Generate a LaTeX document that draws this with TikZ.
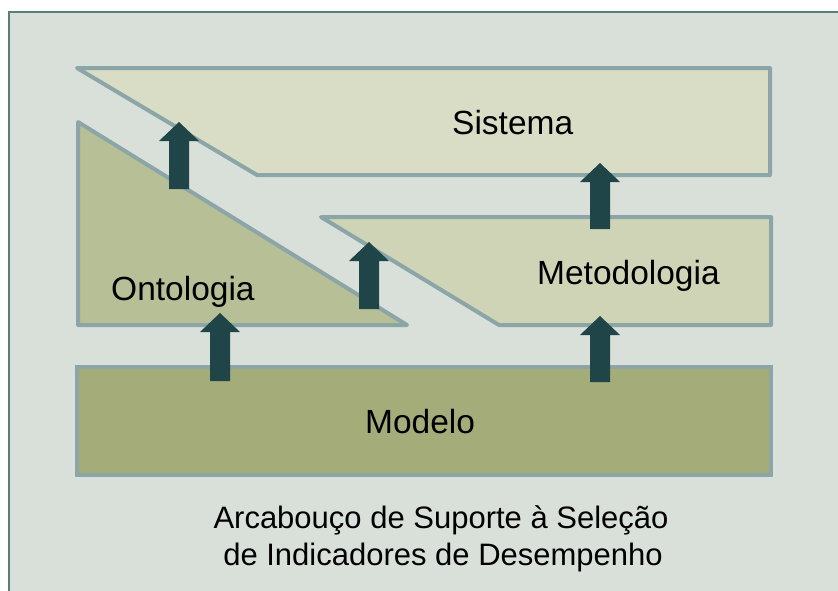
\documentclass[tikz,border=0pt]{standalone}
\usepackage{fontspec}
\setmainfont{Liberation Sans}
\usetikzlibrary{calc}
\definecolor{bgc}{HTML}{D9E0DA}
\definecolor{framec}{HTML}{57807A}
\definecolor{edgec}{HTML}{8CA5A6}
\definecolor{sisc}{HTML}{D9DDC6}
\definecolor{metc}{HTML}{CED4B5}
\definecolor{ontc}{HTML}{B7BF97}
\definecolor{modc}{HTML}{A4AD79}
\definecolor{arrc}{HTML}{1F4548}
\tikzset{
  layer/.style={draw=edgec, line width=4pt, line join=round},
  lbl/.style={anchor=base west, inner sep=0pt, font=\fontsize{33.5}{38}\selectfont},
  captiontext/.style={anchor=base, inner sep=0pt, font=\fontsize{31}{37}\selectfont},
}
\newcommand\blockarr[2]{%
  \fill[arrc] let \p1=(#1), \p2=(#2) in
    (\x1-10pt,\y1) -- (\x1-10pt,\y2-19pt) -- (\x1-20pt,\y2-19pt) -- (\x1,\y2)
    -- (\x1+20pt,\y2-19pt) -- (\x1+10pt,\y2-19pt) -- (\x1+10pt,\y1) -- cycle;}
\begin{document}
\begin{tikzpicture}[x=1pt,y=-1pt]
\useasboundingbox (0,0) rectangle (838,590);
\fill[white] (0,0) rectangle (838,590);
\draw[framec, line width=2.5pt, fill=bgc] (9,620) -- (9,12) -- (860,12);
\fill[bgc] (10.5,13.5) rectangle (860,620);
% layers
\draw[layer, fill=sisc] (77,68) -- (770,68) -- (770,175) -- (257,175) -- cycle;
\draw[layer, fill=ontc] (78,122) -- (407,325) -- (78,325) -- cycle;
\draw[layer, fill=metc] (321,217) -- (771,217) -- (771,325) -- (499,325) -- cycle;
\draw[layer, fill=modc, line join=miter] (77,367) rectangle (771,475);
% labels
\node[lbl] (sis) at (452,134) {Sistema};
\node[lbl] (met) at (537,284) {Metodologia};
\node[lbl] (ont) at (111,300) {Ontologia};
\node[lbl] (mod) at (365,433) {Modelo};
% arrow anchor points
\coordinate (a1s) at (179,189); \coordinate (a1e) at (179,122);
\coordinate (a2s) at (369,309); \coordinate (a2e) at (369,242);
\coordinate (a3s) at (220,381); \coordinate (a3e) at (220,313);
\coordinate (a4s) at (600,382); \coordinate (a4e) at (600,316);
\coordinate (a5s) at (600,229); \coordinate (a5e) at (600,163);
\blockarr{a1s}{a1e}
\blockarr{a2s}{a2e}
\blockarr{a3s}{a3e}
\blockarr{a4s}{a4e}
\blockarr{a5s}{a5e}
% caption
\node[captiontext] (caption1) at (441,528) {Arcabouço de Suporte à Seleção};
\node[captiontext] (caption2) at (443,565) {de Indicadores de Desempenho};
\end{tikzpicture}
\end{document}
